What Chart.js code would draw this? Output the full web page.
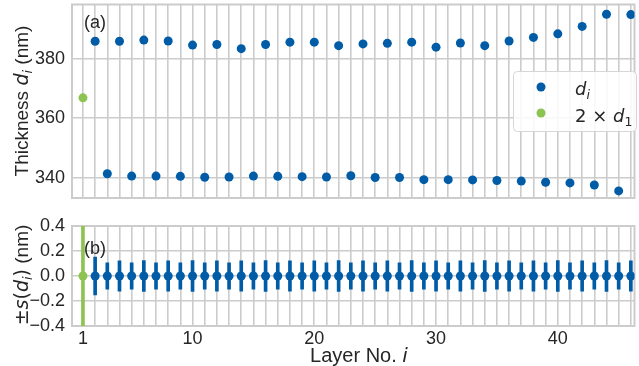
<!DOCTYPE html>
<html>
<head>
<meta charset="utf-8">
<script src="https://cdn.jsdelivr.net/npm/chart.js@4.4.1/dist/chart.umd.min.js"></script>
<style>
  body { margin: 0; background: #fff; }
  #wrap { position: relative; width: 639px; height: 366px; overflow: hidden; }
  #wrap canvas { position: absolute; left: 0; }
  #top { top: 0; }
  #bottom { top: 205px; }
</style>
</head>
<body>
<div id="wrap">
  <canvas id="top" width="639" height="205"></canvas>
  <canvas id="bottom" width="639" height="161"></canvas>
</div>
<script>
// values
var layers = [2, 3, 4, 5, 6, 7, 8, 9, 10, 11, 12, 13, 14, 15, 16, 17, 18, 19, 20, 21, 22, 23, 24,
              25, 26, 27, 28, 29, 30, 31, 32, 33, 34, 35, 36, 37, 38, 39, 40, 41, 42, 43, 44, 45, 46];
var thickness = [386.0, 341.3, 386.0, 340.5, 386.4, 340.5, 386.1, 340.4, 384.7, 340.1, 384.9, 340.2,
                 383.5, 340.5, 384.9, 340.4, 385.7, 340.3, 385.7, 340.2, 384.5, 340.6, 385.1, 340.0,
                 385.3, 340.0, 385.7, 339.3, 384.0, 339.3, 385.4, 339.2, 384.5, 339.0, 386.1, 338.8,
                 387.3, 338.4, 388.5, 338.2, 391.0, 337.5, 395.1, 335.5, 395.0];
var sigma = [0.152, 0.106, 0.122, 0.105, 0.123, 0.106, 0.122, 0.105, 0.123, 0.106, 0.122, 0.105,
             0.122, 0.106, 0.123, 0.105, 0.122, 0.106, 0.122, 0.105, 0.123, 0.106, 0.122, 0.105,
             0.122, 0.106, 0.123, 0.105, 0.122, 0.106, 0.122, 0.105, 0.123, 0.106, 0.122, 0.105,
             0.122, 0.106, 0.123, 0.105, 0.122, 0.106, 0.123, 0.105, 0.122];
var firstLayer = [1];
var doubleFirst = [366.9];
var sigmaFirst = [0.5];
var layerTicks = [1, 10, 20, 30, 40];

var blue = "#005ca6";
var green = "#8dc451";
var gridColor = "#cccccc";
var textColor = "#262626";
var sans = '"Liberation Sans", Arial, sans-serif';
var math = '"DejaVu Sans", sans-serif';

// draw a run of text pieces [text, font, dy] one after another
function richText(ctx, parts, x, y, align) {
    var w = 0;
    parts.forEach(function (p) { ctx.font = p[1]; w += ctx.measureText(p[0]).width; });
    var cx = align === "center" ? x - w / 2 : x;
    ctx.textAlign = "left";
    ctx.textBaseline = "alphabetic";
    ctx.fillStyle = textColor;
    parts.forEach(function (p) {
        ctx.font = p[1];
        ctx.fillText(p[0], cx, y + (p[2] || 0));
        cx += ctx.measureText(p[0]).width;
    });
}

function frame(chart) {
    var a = chart.chartArea, ctx = chart.ctx;
    ctx.save();
    ctx.strokeStyle = gridColor;
    ctx.lineWidth = 2;
    ctx.strokeRect(a.left, a.top, a.right - a.left, a.bottom - a.top);
    ctx.restore();
}

function dot(ctx, x, y, color) {
    ctx.beginPath();
    ctx.arc(x, y, 4.5, 0, Math.PI * 2);
    ctx.fillStyle = color;
    ctx.fill();
}

// fixed axis sizes so the plot areas sit where they do in the figure
function fitY(s) { s.width = 72; s.paddingTop = 0; s.paddingBottom = 0; }
function fitX(h) {
    return function (s) { s.height = h; s.paddingLeft = 0; s.paddingRight = 0; };
}

var gridOpts = { color: gridColor, lineWidth: 1.6, drawTicks: false };
var tickFont = { family: sans, size: 18 };

//top panel
var topChart = new Chart(document.getElementById("top"), {
    type: "scatter",
    data: {
        datasets: [
            {
                label: "d_i",
                data: layers.map(function (x, i) { return { x: x, y: thickness[i] }; }),
                backgroundColor: blue,
                borderWidth: 0,
                pointRadius: 4.5
            },
            {
                label: "2 x d_1",
                data: firstLayer.map(function (x, i) { return { x: x, y: doubleFirst[i] }; }),
                backgroundColor: green,
                borderWidth: 0,
                pointRadius: 4.5
            }
        ]
    },
    options: {
        responsive: false,
        animation: false,
        layout: { padding: { top: 2, left: 0, right: 0, bottom: 0 } },
        plugins: { legend: { display: false }, tooltip: { enabled: false } },
        scales: {
            x: {
                type: "linear", min: 0.1, max: 46.3, offset: false,
                afterFit: fitX(7),
                ticks: { stepSize: 1, display: false, includeBounds: false },
                grid: gridOpts,
                border: { display: false }
            },
            y: {
                min: 333.1, max: 398.4,
                afterFit: fitY,
                ticks: { stepSize: 20, includeBounds: false, padding: 7, font: tickFont, color: textColor },
                grid: gridOpts,
                border: { display: false }
            }
        }
    },
    plugins: [{
        id: "topDecor",
        beforeDatasetsDraw: frame,
        afterDraw: function (chart) {
            var ctx = chart.ctx;
            ctx.save();
            richText(ctx, [["(a)", "18px " + sans]], 95, 28, "center");
            ctx.translate(28, 101);
            ctx.rotate(-Math.PI / 2);
            richText(ctx, [
                ["Thickness ", "19px " + sans],
                ["d", "italic 19px " + math],
                ["i", "italic 13px " + math, 4],
                [" (nm)", "19px " + sans]
            ], 0, 0, "center");
            ctx.restore();

            // legend
            ctx.save();
            ctx.beginPath();
            ctx.roundRect(513.5, 71.5, 123, 60, 4);
            ctx.fillStyle = "rgba(255,255,255,0.85)";
            ctx.fill();
            ctx.strokeStyle = "#d6d6d6";
            ctx.lineWidth = 1;
            ctx.stroke();
            dot(ctx, 541, 87, blue);
            dot(ctx, 541, 113, green);
            richText(ctx, [["d", "italic 18px " + math], ["i", "italic 12.5px " + math, 4]], 575, 95, "left");
            richText(ctx, [["2 \u00d7 ", "18px " + math], ["d", "italic 18px " + math], ["1", "12.5px " + math, 4]], 575, 122, "left");
            ctx.restore();
        }
    }]
});

//bottom panel
var bottomChart = new Chart(document.getElementById("bottom"), {
    type: "scatter",
    data: {
        datasets: [
            {
                type: "bar",
                data: firstLayer.map(function (x, i) { return { x: x, y: [-sigmaFirst[i], sigmaFirst[i]] }; }),
                backgroundColor: green,
                barThickness: 3,
                grouped: false,
                order: 2
            },
            {
                type: "bar",
                data: layers.map(function (x, i) { return { x: x, y: [-sigma[i], sigma[i]] }; }),
                backgroundColor: blue,
                barThickness: 3,
                grouped: false,
                order: 2
            },
            {
                data: firstLayer.map(function (x) { return { x: x, y: 0 }; }),
                backgroundColor: green,
                borderWidth: 0,
                pointRadius: 4.5,
                order: 1
            },
            {
                data: layers.map(function (x) { return { x: x, y: 0 }; }),
                backgroundColor: blue,
                borderWidth: 0,
                pointRadius: 4.5,
                order: 1
            }
        ]
    },
    options: {
        responsive: false,
        animation: false,
        layout: { padding: { top: 21, left: 0, right: 0, bottom: 0 } },
        plugins: { legend: { display: false }, tooltip: { enabled: false } },
        scales: {
            x: {
                type: "linear", min: 0.1, max: 46.3, offset: false,
                afterFit: fitX(40),
                ticks: {
                    stepSize: 1, includeBounds: false, autoSkip: false, maxRotation: 0, padding: 2,
                    font: tickFont, color: textColor,
                    callback: function (v) { return layerTicks.indexOf(v) >= 0 ? String(v) : ""; }
                },
                grid: Object.assign({ offset: false }, gridOpts),
                border: { display: false }
            },
            y: {
                min: -0.4, max: 0.4,
                afterFit: fitY,
                ticks: {
                    stepSize: 0.2, includeBounds: false, padding: 7, font: tickFont, color: textColor,
                    callback: function (v) { return (Math.abs(v) < 1e-9 ? 0 : v).toFixed(1).replace("-", "\u2212"); }
                },
                grid: gridOpts,
                border: { display: false }
            }
        }
    },
    plugins: [{
        id: "bottomDecor",
        beforeDatasetsDraw: frame,
        afterDraw: function (chart) {
            var ctx = chart.ctx;
            ctx.save();
            richText(ctx, [["(b)", "18px " + sans]], 95, 49, "center");
            richText(ctx, [["Layer No. ", "20px " + sans], ["i", "italic 20px " + math]], 359, 157, "center");
            ctx.translate(28, 70);
            ctx.rotate(-Math.PI / 2);
            richText(ctx, [
                ["\u00b1", "19px " + math],
                ["s", "italic 19px " + math],
                ["(", "19px " + math],
                ["d", "italic 19px " + math],
                ["i", "italic 13px " + math, 4],
                [")", "19px " + math],
                [" (nm)", "19px " + sans]
            ], 0, 0, "center");
            ctx.restore();
        }
    }]
});
</script>
</body>
</html>
